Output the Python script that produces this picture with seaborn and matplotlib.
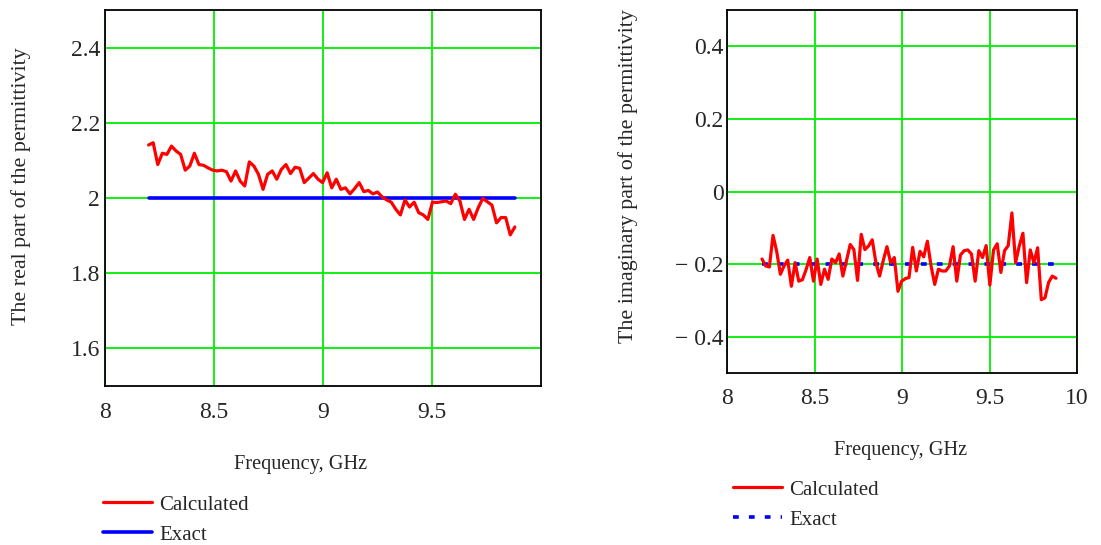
import numpy as np
import pandas as pd
import matplotlib
matplotlib.use("Agg")
import matplotlib.pyplot as plt
import seaborn as sns
from matplotlib.lines import Line2D

# Frequency grid, GHz
freq = [8.200, 8.221, 8.242, 8.263, 8.284, 8.305, 8.326, 8.347, 8.368, 8.389,
        8.410, 8.431, 8.452, 8.473, 8.494, 8.515, 8.536, 8.557, 8.578, 8.599,
        8.620, 8.641, 8.662, 8.683, 8.704, 8.725, 8.746, 8.767, 8.788, 8.809,
        8.830, 8.851, 8.872, 8.893, 8.914, 8.935, 8.956, 8.977, 8.998, 9.019,
        9.040, 9.061, 9.082, 9.103, 9.124, 9.145, 9.166, 9.187, 9.208, 9.229,
        9.250, 9.271, 9.292, 9.313, 9.334, 9.355, 9.376, 9.397, 9.418, 9.439,
        9.460, 9.481, 9.502, 9.523, 9.544, 9.565, 9.586, 9.607, 9.628, 9.649,
        9.670, 9.691, 9.712, 9.733, 9.754, 9.775, 9.796, 9.817, 9.838, 9.859,
        9.880]

# Real part, calculated
real_calc = [2.141, 2.147, 2.089, 2.119, 2.116, 2.138, 2.125, 2.116, 2.074, 2.085,
             2.119, 2.089, 2.087, 2.080, 2.074, 2.072, 2.074, 2.070, 2.045, 2.072,
             2.045, 2.032, 2.096, 2.085, 2.063, 2.023, 2.063, 2.072, 2.050, 2.076,
             2.089, 2.065, 2.082, 2.079, 2.041, 2.053, 2.065, 2.050, 2.041, 2.067,
             2.027, 2.050, 2.023, 2.027, 2.011, 2.025, 2.041, 2.017, 2.020, 2.011,
             2.016, 2.003, 1.995, 1.989, 1.970, 1.955, 1.995, 1.976, 1.989, 1.961,
             1.955, 1.943, 1.989, 1.988, 1.990, 1.992, 1.985, 2.010, 1.992, 1.943,
             1.970, 1.943, 1.974, 1.999, 1.990, 1.981, 1.934, 1.948, 1.948, 1.902,
             1.923]

# Imaginary part, calculated
imag_calc = [-0.186, -0.205, -0.208, -0.121, -0.165, -0.228, -0.205, -0.189, -0.261, -0.196,
             -0.247, -0.243, -0.215, -0.182, -0.247, -0.186, -0.256, -0.214, -0.242, -0.186,
             -0.196, -0.172, -0.233, -0.190, -0.146, -0.160, -0.245, -0.118, -0.160, -0.150,
             -0.133, -0.196, -0.233, -0.190, -0.152, -0.196, -0.182, -0.275, -0.247, -0.240,
             -0.237, -0.154, -0.219, -0.165, -0.180, -0.137, -0.205, -0.256, -0.214, -0.219,
             -0.219, -0.205, -0.152, -0.247, -0.175, -0.163, -0.161, -0.172, -0.247, -0.163,
             -0.182, -0.149, -0.258, -0.161, -0.144, -0.223, -0.163, -0.149, -0.059, -0.196,
             -0.150, -0.115, -0.251, -0.161, -0.196, -0.155, -0.298, -0.293, -0.250, -0.233,
             -0.239]

# Exact values
real_exact = 2.0
imag_exact = -0.2

left_yticks = [1.6, 1.8, 2.0, 2.2, 2.4]
left_yticklabels = ["1.6", "1.8", "2", "2.2", "2.4"]
left_xticks = [8, 8.5, 9, 9.5]
left_xticklabels = ["8", "8.5", "9", "9.5"]
right_yticks = [-0.4, -0.2, 0.0, 0.2, 0.4]
right_yticklabels = ["\u2212 0.4", "\u2212 0.2", "0", "0.2", "0.4"]
right_xticks = [8, 8.5, 9, 9.5, 10]
right_xticklabels = ["8", "8.5", "9", "9.5", "10"]

df = pd.DataFrame({"freq": freq, "real": real_calc, "imag": imag_calc})
df["real_exact"] = real_exact
df["imag_exact"] = imag_exact

sns.set_style("white")
plt.rcParams["font.family"] = ["Liberation Serif", "DejaVu Serif"]

W, H = 1101, 545
fig = plt.figure(figsize=(W / 100, H / 100), dpi=100)
ax1 = fig.add_axes([105 / W, 1 - 386 / H, 436 / W, 376 / H])
ax2 = fig.add_axes([727 / W, 1 - 373 / H, 350 / W, 363 / H])

grid_kw = dict(color="#00ee00", lw=1.3)
tick_fs = 17
xlabel_fs = 14.7
ylabel_fs = 15.8
leg_fs = 15
dots = (1.6, 2.8)

# LEFT: real part
sns.lineplot(data=df, x="freq", y="real", color="red", lw=2.3, ax=ax1, zorder=4)
sns.lineplot(data=df, x="freq", y="real_exact", color="blue", lw=2.6, ax=ax1, zorder=3)
ax1.set_xlim(8, 10)
ax1.set_ylim(1.5, 2.5)
ax1.set_xticks(left_xticks)
ax1.set_xticklabels(left_xticklabels, fontsize=tick_fs)
ax1.set_yticks(left_yticks)
ax1.set_yticklabels(left_yticklabels, fontsize=tick_fs)
ax1.set_xlabel("Frequency, GHz", fontsize=xlabel_fs, va="center")
ax1.xaxis.set_label_coords((301 - 105) / 436, (386 - 464) / 376)
ax1.set_ylabel("The real part of the permittivity", fontsize=ylabel_fs, va="center")
ax1.yaxis.set_label_coords((21 - 105) / 436, (386 - 186) / 376)

# RIGHT: imaginary part
sns.lineplot(data=df, x="freq", y="imag", color="red", lw=2.3, ax=ax2, zorder=4)
sns.lineplot(data=df, x="freq", y="imag_exact", color="blue", lw=2.6, ax=ax2, zorder=3)
ax2.lines[-1].set_dashes(dots)
ax2.lines[-1].set_dash_capstyle("butt")
ax2.set_xlim(8, 10)
ax2.set_ylim(-0.5, 0.5)
ax2.set_xticks(right_xticks)
ax2.set_xticklabels(right_xticklabels, fontsize=tick_fs)
ax2.set_yticks(right_yticks)
ax2.set_yticklabels(right_yticklabels, fontsize=tick_fs)
ax2.set_xlabel("Frequency, GHz", fontsize=xlabel_fs, va="center")
ax2.xaxis.set_label_coords((901 - 727) / 350, (373 - 451) / 363)
ax2.set_ylabel("The imaginary part of the permittivity", fontsize=ylabel_fs, va="center")
ax2.yaxis.set_label_coords((628 - 727) / 350, (373 - 176) / 363)

for ax, xpad, ypad in ((ax1, 11.5, 3.6), (ax2, 10.5, 2.5)):
    ax.grid(True, **grid_kw)
    ax.set_axisbelow(True)
    ax.tick_params(axis="x", length=0, pad=xpad)
    ax.tick_params(axis="y", length=0, pad=ypad)
    for s in ax.spines.values():
        s.set_color("black")
        s.set_linewidth(1.3)
    if ax.get_legend():
        ax.get_legend().remove()

# legends below the plots
leg_kw = dict(loc="upper left", frameon=False, fontsize=leg_fs, handlelength=2.35,
              handletextpad=0.34, labelspacing=0.5, borderpad=0, borderaxespad=0)
h1 = [Line2D([], [], color="red", lw=2.3), Line2D([], [], color="blue", lw=2.6)]
fig.legend(h1, ["Calculated", "Exact"], bbox_to_anchor=(103 / W, 1 - 495 / H), **leg_kw)
h2 = [Line2D([], [], color="red", lw=2.3),
      Line2D([], [], color="blue", lw=2.6, dashes=dots, dash_capstyle="butt")]
fig.legend(h2, ["Calculated", "Exact"], bbox_to_anchor=(733 / W, 1 - 480 / H), **leg_kw)

fig.savefig("out.png", dpi=100)
